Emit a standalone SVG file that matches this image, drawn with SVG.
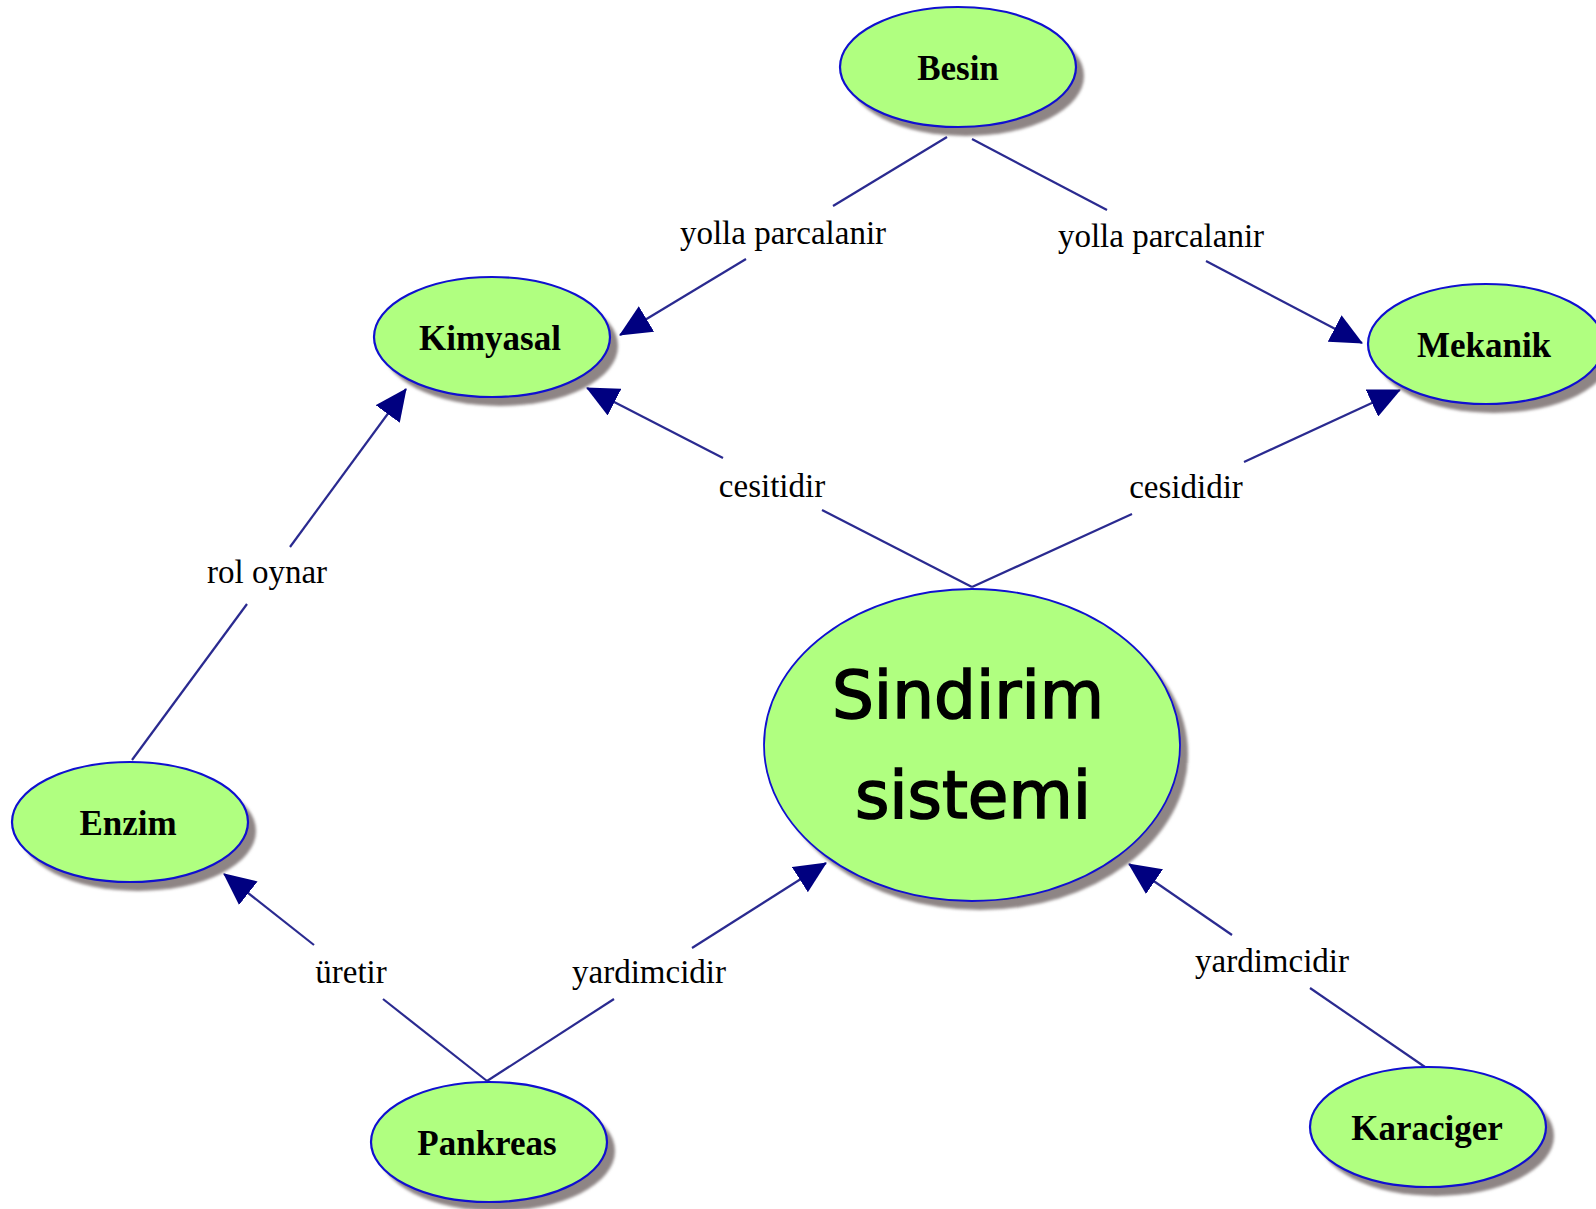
<svg xmlns="http://www.w3.org/2000/svg" width="1596" height="1209" viewBox="0 0 1596 1209">
<style>
.node { fill: #b0ff80; stroke: #1010d0; stroke-width: 2.2; }
.shadow { fill: #8e8585; }
.nt { font-family: "Liberation Serif", "Times New Roman", serif; font-weight: bold; font-size: 35px; fill: #000; text-anchor: middle; }
.big { font-family: "Comic Sans MS", "DejaVu Sans", sans-serif; font-size: 66px; fill: #000; stroke: #000; stroke-width: 1.6; text-anchor: middle; }
.lbl { font-family: "Liberation Serif", "Times New Roman", serif; font-size: 33px; fill: #000; text-anchor: middle; }
.edge { stroke: #2a2a90; stroke-width: 2.2; fill: none; }
</style>
<defs>
<filter id="blur" x="-10%" y="-10%" width="120%" height="120%">
<feGaussianBlur stdDeviation="1.5"/>
</filter>
<marker id="arr" markerUnits="userSpaceOnUse" markerWidth="32" markerHeight="30" viewBox="0 0 31 29" refX="30" refY="14.5" orient="auto">
<path d="M0,0 L31,14.5 L0,29 z" fill="#000080"/>
</marker>
</defs>
<rect x="0" y="0" width="1596" height="1209" fill="#ffffff"/>

<g id="connectors">
<line class="edge" x1="947" y1="137" x2="833" y2="206"/>
<line class="edge" x1="746" y1="259" x2="620" y2="335" marker-end="url(#arr)"/>
<line class="edge" x1="972" y1="139" x2="1107" y2="210"/>
<line class="edge" x1="1206" y1="261" x2="1362" y2="343" marker-end="url(#arr)"/>
<line class="edge" x1="972" y1="587" x2="822" y2="510"/>
<line class="edge" x1="723" y1="458" x2="587" y2="388" marker-end="url(#arr)"/>
<line class="edge" x1="972" y1="587" x2="1132" y2="514"/>
<line class="edge" x1="1244" y1="462" x2="1400" y2="390" marker-end="url(#arr)"/>
<line class="edge" x1="132" y1="760" x2="247" y2="604"/>
<line class="edge" x1="290" y1="547" x2="406" y2="389" marker-end="url(#arr)"/>
<line class="edge" x1="487" y1="1081" x2="383" y2="999"/>
<line class="edge" x1="314" y1="945" x2="224" y2="874" marker-end="url(#arr)"/>
<line class="edge" x1="487" y1="1081" x2="614" y2="999"/>
<line class="edge" x1="692" y1="948" x2="826" y2="863" marker-end="url(#arr)"/>
<line class="edge" x1="1425" y1="1067" x2="1310" y2="988"/>
<line class="edge" x1="1232" y1="935" x2="1129" y2="864" marker-end="url(#arr)"/>
<text class="lbl" x="783" y="244">yolla parcalanir</text>
<text class="lbl" x="1161" y="247">yolla parcalanir</text>
<text class="lbl" x="772" y="497">cesitidir</text>
<text class="lbl" x="1186" y="498">cesididir</text>
<text class="lbl" x="267" y="583">rol oynar</text>
<text class="lbl" x="351" y="983">üretir</text>
<text class="lbl" x="649" y="983">yardimcidir</text>
<text class="lbl" x="1272" y="972">yardimcidir</text>
</g>

<g id="besin">
<ellipse class="shadow" cx="966" cy="76" rx="118" ry="60" filter="url(#blur)"/>
<ellipse class="node" cx="958" cy="67" rx="118" ry="60"/>
<text class="nt" x="958" y="80">Besin</text>
</g>
<g id="kimyasal">
<ellipse class="shadow" cx="500" cy="346" rx="118" ry="60" filter="url(#blur)"/>
<ellipse class="node" cx="492" cy="337" rx="118" ry="60"/>
<text class="nt" x="490" y="350">Kimyasal</text>
</g>
<g id="mekanik">
<ellipse class="shadow" cx="1494" cy="353" rx="118" ry="60" filter="url(#blur)"/>
<ellipse class="node" cx="1486" cy="344" rx="118" ry="60"/>
<text class="nt" x="1484" y="357">Mekanik</text>
</g>
<g id="sindirim">
<ellipse class="shadow" cx="980" cy="754" rx="208" ry="156" filter="url(#blur)"/>
<ellipse class="node" cx="972" cy="745" rx="208" ry="156" style="stroke-width:1.8"/>
<text class="big" x="968" y="718">Sindirim</text>
<text class="big" x="973" y="818">sistemi</text>
</g>
<g id="enzim">
<ellipse class="shadow" cx="138" cy="831" rx="118" ry="60" filter="url(#blur)"/>
<ellipse class="node" cx="130" cy="822" rx="118" ry="60"/>
<text class="nt" x="128" y="835">Enzim</text>
</g>
<g id="pankreas">
<ellipse class="shadow" cx="497" cy="1151" rx="118" ry="60" filter="url(#blur)"/>
<ellipse class="node" cx="489" cy="1142" rx="118" ry="60"/>
<text class="nt" x="487" y="1155">Pankreas</text>
</g>
<g id="karaciger">
<ellipse class="shadow" cx="1436" cy="1136" rx="118" ry="60" filter="url(#blur)"/>
<ellipse class="node" cx="1428" cy="1127" rx="118" ry="60"/>
<text class="nt" x="1427" y="1140">Karaciger</text>
</g>
</svg>
